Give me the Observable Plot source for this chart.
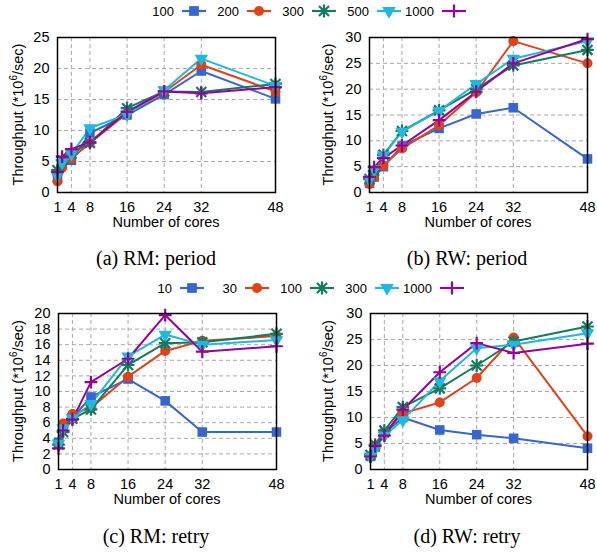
<!DOCTYPE html>
<html><head><meta charset="utf-8">
<script src="https://cdn.jsdelivr.net/npm/d3@7"></script>
<script src="https://cdn.jsdelivr.net/npm/@observablehq/plot@0.6"></script>
<style>
body{margin:0;background:#fff;}
#root{position:relative;width:597px;height:552px;overflow:hidden;background:#fff;font-family:"Liberation Sans",Arial,sans-serif;}
.panel{position:absolute;}
#overlay{position:absolute;left:0;top:0;}
</style></head><body><div id="root"></div>
<script>
// ---- data ----
const cores = [1, 2, 4, 8, 16, 24, 32, 48];
const xTicks = [1, 4, 8, 16, 24, 32, 48];
const periodLabels = ["100", "200", "300", "500", "1000"];
const retryLabels = ["10", "30", "100", "300", "1000"];

const rmPeriod100  = [2.3, 4.5, 5.2, 9.6, 12.5, 15.8, 19.6, 15.1];
const rmPeriod200  = [1.8, 4.0, 5.5, 8.0, 12.8, 16.2, 20.6, 16.3];
const rmPeriod300  = [3.6, 5.2, 6.3, 8.0, 13.6, 16.3, 16.2, 17.5];
const rmPeriod500  = [2.7, 4.8, 6.2, 10.4, 12.6, 16.5, 21.6, 17.2];
const rmPeriod1000 = [3.3, 5.8, 7.0, 8.1, 13.0, 16.3, 16.0, 17.0];

const rwPeriod100  = [1.8, 3.0, 5.0, 9.0, 12.4, 15.2, 16.4, 6.5];
const rwPeriod200  = [1.6, 3.0, 5.2, 8.5, 13.0, 19.4, 29.3, 25.0];
const rwPeriod300  = [2.6, 4.2, 7.3, 11.9, 15.9, 20.0, 24.6, 27.6];
const rwPeriod500  = [2.5, 4.5, 7.2, 11.8, 15.8, 21.0, 25.9, 29.3];
const rwPeriod1000 = [3.0, 4.9, 6.7, 9.1, 14.0, 19.5, 25.0, 29.7];

const rmRetry10   = [3.5, 5.5, 6.6, 9.3, 11.6, 8.8, 4.8, 4.8];
const rmRetry30   = [3.3, 5.9, 7.1, 7.9, 11.9, 15.2, 16.5, 17.1];
const rmRetry100  = [3.2, 4.8, 6.5, 7.7, 13.4, 16.2, 16.3, 17.4];
const rmRetry300  = [3.3, 5.3, 6.6, 8.4, 14.5, 17.3, 16.0, 16.6];
const rmRetry1000 = [2.7, 5.0, 6.4, 11.2, 14.2, 19.8, 15.1, 15.8];

const rwRetry10   = [2.5, 4.3, 7.0, 10.0, 7.6, 6.7, 6.0, 4.1];
const rwRetry30   = [2.5, 4.5, 7.0, 10.8, 12.9, 17.6, 25.4, 6.4];
const rwRetry100  = [2.8, 4.8, 7.5, 12.0, 15.6, 20.0, 24.6, 27.5];
const rwRetry300  = [2.5, 4.0, 6.5, 9.5, 17.0, 23.3, 24.0, 26.2];
const rwRetry1000 = [2.5, 4.5, 6.5, 11.5, 18.7, 24.3, 22.4, 24.2];

const captions = ["(a) RM: period", "(b) RW: period", "(c) RM: retry", "(d) RW: retry"];
const yLabelParts = ["Throughput (*10", "6", "/sec)"];
const xLabel = "Number of cores";

// ---- styles ----
const colors = ["#3766cf", "#e0421a", "#147a62", "#1fb8df", "#990099"];
const root = document.getElementById("root");
const sans = '"Liberation Sans", Arial, sans-serif';

function symbolMarks(data, labels) {
  const by = i => data.filter(d => d.s === labels[i]);
  return [
    Plot.dot(by(0), {x: "c", y: "v", symbol: "square", r: 5.4, fill: colors[0], stroke: "none"}),
    Plot.dot(by(1), {x: "c", y: "v", symbol: "circle", r: 5, fill: colors[1], stroke: "none"}),
    Plot.dot(by(2), {x: "c", y: "v", symbol: "plus", r: 4.2, fill: "none", stroke: colors[2], strokeWidth: 2.2}),
    Plot.dot(by(2), {x: "c", y: "v", symbol: "times", r: 4.6, fill: "none", stroke: colors[2], strokeWidth: 2.2}),
    Plot.dot(by(3), {x: "c", y: "v", symbol: "triangle", rotate: 180, r: 5, fill: colors[3], stroke: "none"}),
    Plot.dot(by(4), {x: "c", y: "v", symbol: "plus", r: 4.2, fill: "none", stroke: colors[4], strokeWidth: 2.2})
  ];
}

const frames = [];
function panel(series, labels, yMax, yStep, pos) {
  const data = labels.flatMap((s, i) => cores.map((c, j) => ({s, c, v: series[i][j]})));
  const yTicks = d3.range(0, yMax + 1e-9, yStep);
  const chart = Plot.plot({
    width: pos.w, height: pos.h,
    marginLeft: pos.ml, marginRight: pos.mr, marginTop: pos.mt, marginBottom: pos.mb,
    x: {domain: [1, 48]},
    y: {domain: [0, yMax]},
    color: {domain: labels, range: colors},
    style: {fontFamily: sans, fontSize: "14px", overflow: "visible", background: "transparent", color: "#000"},
    marks: [
      Plot.gridX(xTicks.filter(t => t > 1 && t < 48), {stroke: "#a8a8a8", strokeOpacity: 1, strokeDasharray: "4,3", strokeWidth: 1}),
      Plot.gridY(yTicks.filter(t => t > 0 && t < yMax), {stroke: "#a8a8a8", strokeOpacity: 1, strokeDasharray: "4,3", strokeWidth: 1}),
      Plot.axisX(xTicks, {tickSize: 0, tickPadding: 9, fontSize: 14.5, label: null}),
      Plot.axisY(yTicks, {tickSize: 0, tickPadding: 8, fontSize: 14.5, label: null}),
      Plot.line(data, {x: "c", y: "v", z: "s", stroke: "s", strokeWidth: 2}),
      ...symbolMarks(data, labels),
      Plot.frame({stroke: "#000", strokeWidth: 1.5})
    ]
  });
  chart.classList.add("panel");
  chart.style.left = pos.x + "px";
  chart.style.top = pos.y + "px";
  root.appendChild(chart);
  frames.push({l: pos.x + pos.ml, r: pos.x + pos.w - pos.mr, t: pos.y + pos.mt, b: pos.y + pos.h - pos.mb});
}

panel([rmPeriod100, rmPeriod200, rmPeriod300, rmPeriod500, rmPeriod1000], periodLabels, 25, 5,
  {x: 0, y: 25, w: 298, h: 200, ml: 57, mr: 23, mt: 12, mb: 33});
panel([rwPeriod100, rwPeriod200, rwPeriod300, rwPeriod500, rwPeriod1000], periodLabels, 30, 5,
  {x: 298, y: 25, w: 299, h: 200, ml: 71, mr: 10, mt: 12, mb: 33});
panel([rmRetry10, rmRetry30, rmRetry100, rmRetry300, rmRetry1000], retryLabels, 20, 2,
  {x: 0, y: 300, w: 298, h: 200, ml: 58, mr: 22, mt: 13, mb: 31});
panel([rwRetry10, rwRetry30, rwRetry100, rwRetry300, rwRetry1000], retryLabels, 30, 5,
  {x: 298, y: 300, w: 299, h: 200, ml: 72, mr: 10, mt: 13, mb: 31});

// ---- overlay: axis titles, legends and captions ----
const svg = d3.select(root).append("svg").attr("id", "overlay").attr("width", 597).attr("height", 552);

const yLabelX = [18, 328, 18, 328];
frames.forEach((f, i) => {
  svg.append("text").attr("x", (f.l + f.r) / 2).attr("y", f.b + 35).attr("text-anchor", "middle")
    .attr("font-family", sans).attr("font-size", 14.5).text(xLabel);
  const t = svg.append("text").attr("transform", `translate(${yLabelX[i] + 5},${(f.t + f.b) / 2}) rotate(-90)`)
    .attr("text-anchor", "middle").attr("font-family", sans).attr("font-size", 14.5);
  t.append("tspan").text(yLabelParts[0]);
  t.append("tspan").attr("font-size", 10).attr("dy", -6).text(yLabelParts[1]);
  t.append("tspan").attr("dy", 6).text(yLabelParts[2]);
});

function legend(labels, y, lineStart0) {
  const g = svg.append("g").attr("font-family", sans).attr("font-size", 13);
  labels.forEach((lab, i) => {
    const x1 = lineStart0 + i * 65, x2 = x1 + 24, cx = (x1 + x2) / 2;
    g.append("text").attr("x", x1 - 8).attr("y", y).attr("dy", "0.35em").attr("text-anchor", "end").text(lab);
    g.append("line").attr("x1", x1).attr("x2", x2).attr("y1", y).attr("y2", y).attr("stroke", colors[i]).attr("stroke-width", 2.2);
    const sym = (type, size) => d3.symbol(type, size)();
    const tr = `translate(${cx},${y})`;
    if (i === 0) g.append("path").attr("d", sym(d3.symbolSquare, 95)).attr("transform", tr).attr("fill", colors[i]);
    if (i === 1) g.append("path").attr("d", sym(d3.symbolCircle, 80)).attr("transform", tr).attr("fill", colors[i]);
    if (i === 2) {
      g.append("path").attr("d", sym(d3.symbolPlus, 58)).attr("transform", tr).attr("fill", "none").attr("stroke", colors[i]).attr("stroke-width", 2.2);
      g.append("path").attr("d", sym(d3.symbolTimes, 68)).attr("transform", tr).attr("fill", "none").attr("stroke", colors[i]).attr("stroke-width", 2.2);
    }
    if (i === 3) g.append("path").attr("d", sym(d3.symbolTriangle, 80)).attr("transform", tr + " rotate(180)").attr("fill", colors[i]);
    if (i === 4) g.append("path").attr("d", sym(d3.symbolPlus, 58)).attr("transform", tr).attr("fill", "none").attr("stroke", colors[i]).attr("stroke-width", 2.2);
  });
}
legend(periodLabels, 11, 182);
legend(retryLabels, 288, 180);

const capPos = [[156, 265], [467, 265], [156, 543], [467, 543]];
captions.forEach((c, i) => {
  svg.append("text").attr("x", capPos[i][0]).attr("y", capPos[i][1]).attr("text-anchor", "middle")
    .attr("font-family", '"Liberation Serif", "Times New Roman", serif').attr("font-size", 20).text(c);
});
</script></body></html>
